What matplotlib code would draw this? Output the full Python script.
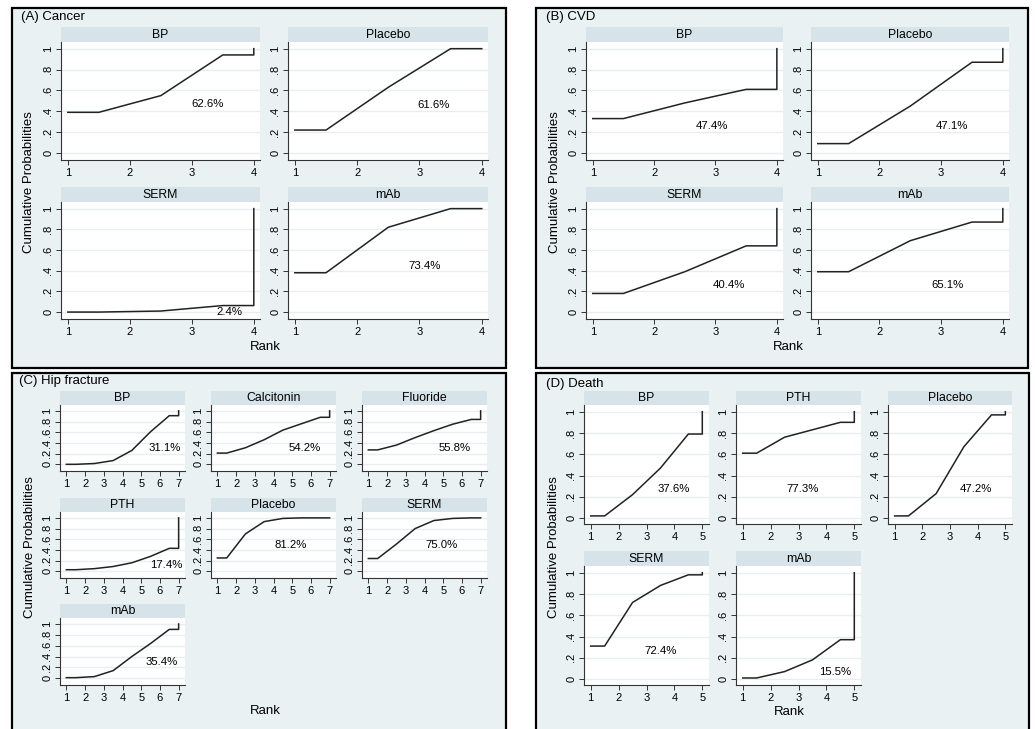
import numpy as np
import matplotlib.pyplot as plt
from matplotlib.patches import Rectangle

plt.rcParams['font.family'] = ['Liberation Sans', 'DejaVu Sans']

# cumulative ranking probabilities at ranks 1..n-1 (rank n is always 1)
cancer_drugs = ['BP', 'Placebo', 'SERM', 'mAb']
cancer_cum = [[0.39, 0.55, 0.94], [0.22, 0.63, 1.0], [0.0, 0.01, 0.063], [0.38, 0.82, 1.0]]
cancer_sucra = ['62.6%', '61.6%', '2.4%', '73.4%']

cvd_drugs = ['BP', 'Placebo', 'SERM', 'mAb']
cvd_cum = [[0.33, 0.48, 0.61], [0.09, 0.45, 0.87], [0.18, 0.39, 0.64], [0.39, 0.69, 0.87]]
cvd_sucra = ['47.4%', '47.1%', '40.4%', '65.1%']

hip_drugs = ['BP', 'Calcitonin', 'Fluoride', 'PTH', 'Placebo', 'SERM', 'mAb']
hip_cum = [[0.0, 0.015, 0.07, 0.26, 0.61, 0.91],
           [0.21, 0.31, 0.46, 0.64, 0.76, 0.88],
           [0.27, 0.36, 0.50, 0.63, 0.75, 0.84],
           [0.03, 0.05, 0.09, 0.16, 0.28, 0.43],
           [0.25, 0.70, 0.93, 0.99, 1.0, 1.0],
           [0.24, 0.51, 0.80, 0.95, 0.99, 1.0],
           [0.01, 0.03, 0.14, 0.40, 0.64, 0.90]]
hip_sucra = ['31.1%', '54.2%', '55.8%', '17.4%', '81.2%', '75.0%', '35.4%']

death_drugs = ['BP', 'PTH', 'Placebo', 'SERM', 'mAb']
death_cum = [[0.02, 0.22, 0.47, 0.79],
             [0.61, 0.76, 0.83, 0.90],
             [0.02, 0.23, 0.67, 0.97],
             [0.31, 0.72, 0.88, 0.98],
             [0.01, 0.07, 0.18, 0.37]]
death_sucra = ['37.6%', '77.3%', '47.2%', '72.4%', '15.5%']

W, H = 1035, 729
BG = '#e9f1f2'
STRIP = '#d6e3e9'
GRID = '#e6eef0'

fig = plt.figure(figsize=(W / 100, H / 100), dpi=100)


def fr(x0, y0, x1, y1):
    return [x0 / W, 1 - y1 / H, (x1 - x0) / W, (y1 - y0) / H]


def frame(x0, y0, x1, y1):
    fig.patches.append(Rectangle((x0 / W, 1 - y1 / H), (x1 - x0) / W, (y1 - y0) / H,
                                 transform=fig.transFigure, facecolor=BG,
                                 edgecolor='black', lw=1.6, zorder=-5))


def ftext(x, y, s, **kw):
    fig.text(x / W, 1 - y / H, s, **kw)


def subplot(box, strip, name, cum, sucra, lpos, xlim, ylim):
    n = len(cum) + 1
    # header strip
    sx = fig.add_axes(fr(box[0], strip[0], box[1], strip[1]))
    sx.set_facecolor(STRIP)
    sx.set_xticks([]); sx.set_yticks([])
    for s in sx.spines.values():
        s.set_visible(False)
    sx.text(0.5, 0.5, name, ha='center', va='center', fontsize=8.8, transform=sx.transAxes)

    ax = fig.add_axes(fr(box[0], strip[1], box[1], box[2]))
    ax.set_facecolor('white')
    x = np.concatenate([[1], np.arange(1, n) + 0.5, [n, n]])
    y = np.concatenate([[cum[0]], cum, [cum[-1], 1.0]])
    ax.plot(x, y, color='#222222', lw=1.1, clip_on=False, zorder=3)
    ax.set_xlim(*xlim)
    ax.set_ylim(*ylim)
    ax.set_xticks(range(1, n + 1))
    ax.set_yticks([0, 0.2, 0.4, 0.6, 0.8, 1])
    ax.set_yticklabels(['0', '.2', '.4', '.6', '.8', '1'], rotation=90, va='center')
    ax.grid(axis='y', color=GRID, lw=1.0)
    ax.set_axisbelow(True)
    for s in ['top', 'right']:
        ax.spines[s].set_visible(False)
    for s in ['left', 'bottom']:
        ax.spines[s].set_color('#333333')
        ax.spines[s].set_linewidth(0.8)
    ax.tick_params(length=3.5, width=0.7, color='#333333', labelsize=8, pad=2)
    ax.text(lpos[0], lpos[1], sucra, ha='center', va='center', fontsize=8.2)
    return ax


# (A) Cancer
frame(12, 8, 506, 368)
ftext(21, 17, '(A) Cancer', fontsize=9.5, va='center')
a_cols = [(61, 260), (288, 488)]
a_rows = [((27, 42), 160), ((187, 202), 319)]
a_lpos = [(3.25, 0.47), (3.22, 0.46), (3.6, 0.0), (3.08, 0.45)]
for i, name in enumerate(cancer_drugs):
    c, r = a_cols[i % 2], a_rows[i // 2]
    subplot((c[0], c[1], r[1]), r[0], name, cancer_cum[i], cancer_sucra[i], a_lpos[i],
            (0.89, 4.1), (-0.067, 1.064))
ftext(29, 182, 'Cumulative Probabilities', fontsize=9.5, rotation=90, ha='center', va='center')
ftext(265, 347, 'Rank', fontsize=9.5, ha='center', va='center')

# (B) CVD
frame(536, 8, 1028, 368)
ftext(546, 17, '(B) CVD', fontsize=9.5, va='center')
b_cols = [(586, 783), (811, 1009)]
b_lpos = [(2.94, 0.26), (3.18, 0.26), (3.21, 0.26), (3.11, 0.26)]
for i, name in enumerate(cvd_drugs):
    c, r = b_cols[i % 2], a_rows[i // 2]
    subplot((c[0], c[1], r[1]), r[0], name, cvd_cum[i], cvd_sucra[i], b_lpos[i],
            (0.89, 4.1), (-0.067, 1.064))
ftext(555, 182, 'Cumulative Probabilities', fontsize=9.5, rotation=90, ha='center', va='center')
ftext(788, 347, 'Rank', fontsize=9.5, ha='center', va='center')

# (C) Hip fracture
frame(12, 373, 506, 745)
ftext(19, 381, '(C) Hip fracture', fontsize=9.5, va='center')
c_cols = [(60, 185), (211, 336), (362, 487)]
c_rows = [((391, 405), 471), ((498, 512), 578), ((604, 618), 685)]
c_lpos = [(6.24, 0.3), (5.67, 0.3), (5.61, 0.3), (6.33, 0.11), (4.9, 0.5), (4.9, 0.5), (6.1, 0.3)]
for i, name in enumerate(hip_drugs):
    c, r = c_cols[i % 3], c_rows[i // 3]
    subplot((c[0], c[1], r[1]), r[0], name, hip_cum[i], hip_sucra[i], c_lpos[i],
            (0.66, 7.34), (-0.125, 1.11))
ftext(30, 547, 'Cumulative Probabilities', fontsize=9.5, rotation=90, ha='center', va='center')
ftext(265, 711, 'Rank', fontsize=9.5, ha='center', va='center')

# (D) Death
frame(536, 373, 1029, 745)
ftext(546, 384, '(D) Death', fontsize=9.5, va='center')
d_cols = [(584, 709), (736, 861), (888, 1012)]
d_rows = [((391, 405), 524), ((551, 566), 685)]
d_lpos = [(3.96, 0.27), (3.13, 0.27), (3.94, 0.27), (3.51, 0.265), (4.3, 0.07)]
for i, name in enumerate(death_drugs):
    c, r = d_cols[i % 3], d_rows[i // 3]
    subplot((c[0], c[1], r[1]), r[0], name, death_cum[i], death_sucra[i], d_lpos[i],
            (0.76, 5.24), (-0.056, 1.063))
ftext(554, 547, 'Cumulative Probabilities', fontsize=9.5, rotation=90, ha='center', va='center')
ftext(789, 712, 'Rank', fontsize=9.5, ha='center', va='center')

fig.savefig('out.png', dpi=100)
